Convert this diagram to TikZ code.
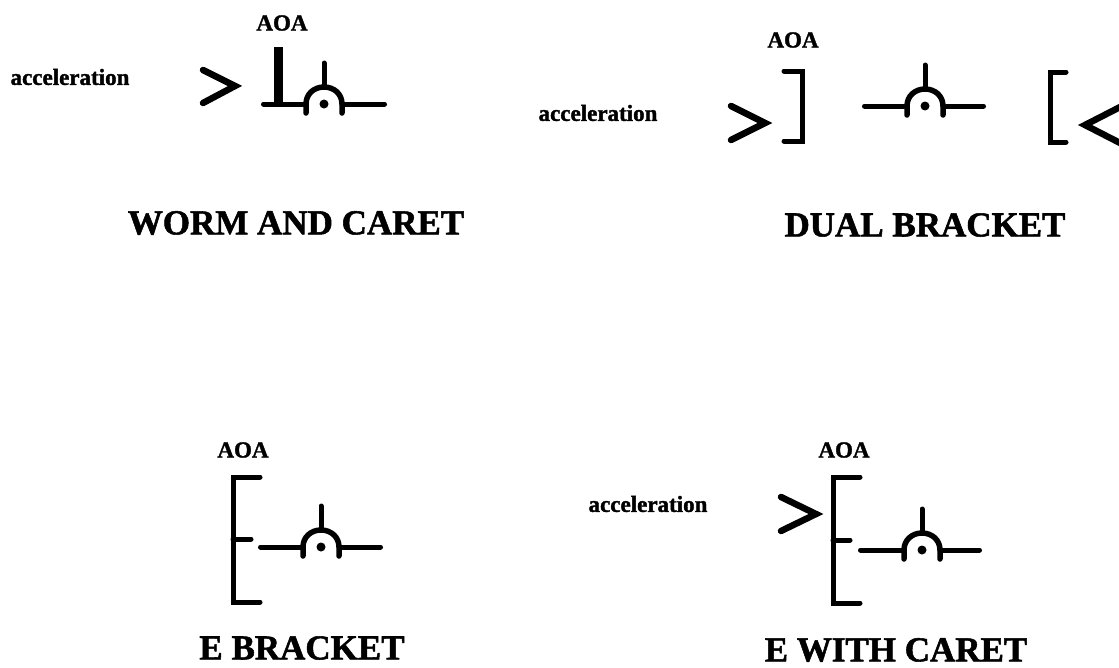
\documentclass[tikz,border=0pt]{standalone}
\usepackage{fontspec}
\setmainfont{Liberation Serif}[BoldFeatures={FakeBold=1.5}]
\tikzset{
  x=1pt,y=-1pt,
  glyph/.style={line width=#1,line cap=round,line join=miter,black},
  heavy/.style={glyph=6.5pt},
  medium/.style={glyph=5pt},
  title/.style={font=\fontsize{35}{37}\selectfont\bfseries,inner sep=0pt},
  aoa/.style={font=\fontsize{23}{25}\selectfont\bfseries,inner sep=0pt},
  accel/.style={font=\fontsize{23}{25}\selectfont\bfseries,inner sep=0pt},
  pics/plane/.style 2 args={code={
    \draw[medium] (-#1+2.5,0) -- (-18,0) (18,0) -- (#2-2.5,0);
    \draw[medium] (0,-17) -- (0,-41);
    \draw[glyph=5.5pt] (-18,9) -- (-18,0) .. controls (-18,-10) and (-10,-17) .. (0,-17)
       .. controls (10,-17) and (18,-10) .. (18,0) -- (18,9);
    \fill (0,0) circle (4.5pt);
  }}
}
\begin{document}
\begin{tikzpicture}
\useasboundingbox (0,0) rectangle (1119,667);
% Worm and caret
\node[aoa] (aoa1) at (282,23) {AOA};
\node[accel] (acc1) at (70,77) {acceleration};
\draw[heavy] (203,70) -- (235,86) -- (203,103);
\draw[line width=9pt,black] (278,47) -- (278,104);
\pic at (324,104) {plane={63}{63}};
\node[title] (t1) at (296,223) {WORM AND CARET};
% Dual bracket
\node[aoa] (aoa2) at (793,40) {AOA};
\node[accel] (acc2) at (598,113) {acceleration};
\draw[heavy] (731,106) -- (765,123) -- (731,140);
\draw[medium] (784,71) -- (802,71) -- (802,141) -- (784,141);
\pic at (925,106) {plane={63}{61}};
\draw[medium] (1066,72) -- (1050,72) -- (1050,142) -- (1066,142);
\draw[heavy] (1125,104.5) -- (1085,125) -- (1125,145.5);
\node[title] (t2) at (925,225) {DUAL BRACKET};
% E bracket
\node[aoa] (aoa3) at (243,450) {AOA};
\draw[medium] (260,477) -- (233,477) -- (233,602) -- (260,602);
\draw[medium] (233,539) -- (251,539);
\pic at (321,547) {plane={63}{62}};
\node[title] (t3) at (302,648) {E BRACKET};
% E with caret
\node[aoa] (aoa4) at (844,450) {AOA};
\node[accel] (acc4) at (648,504) {acceleration};
\draw[heavy] (781,497) -- (816,514) -- (781,531);
\draw[medium] (860,477) -- (833,477) -- (833,603) -- (860,603);
\draw[medium] (833,540) -- (850,540);
\pic at (922,550) {plane={64}{60}};
\node[title] (t4) at (896,650) {E WITH CARET};
\end{tikzpicture}
\end{document}
